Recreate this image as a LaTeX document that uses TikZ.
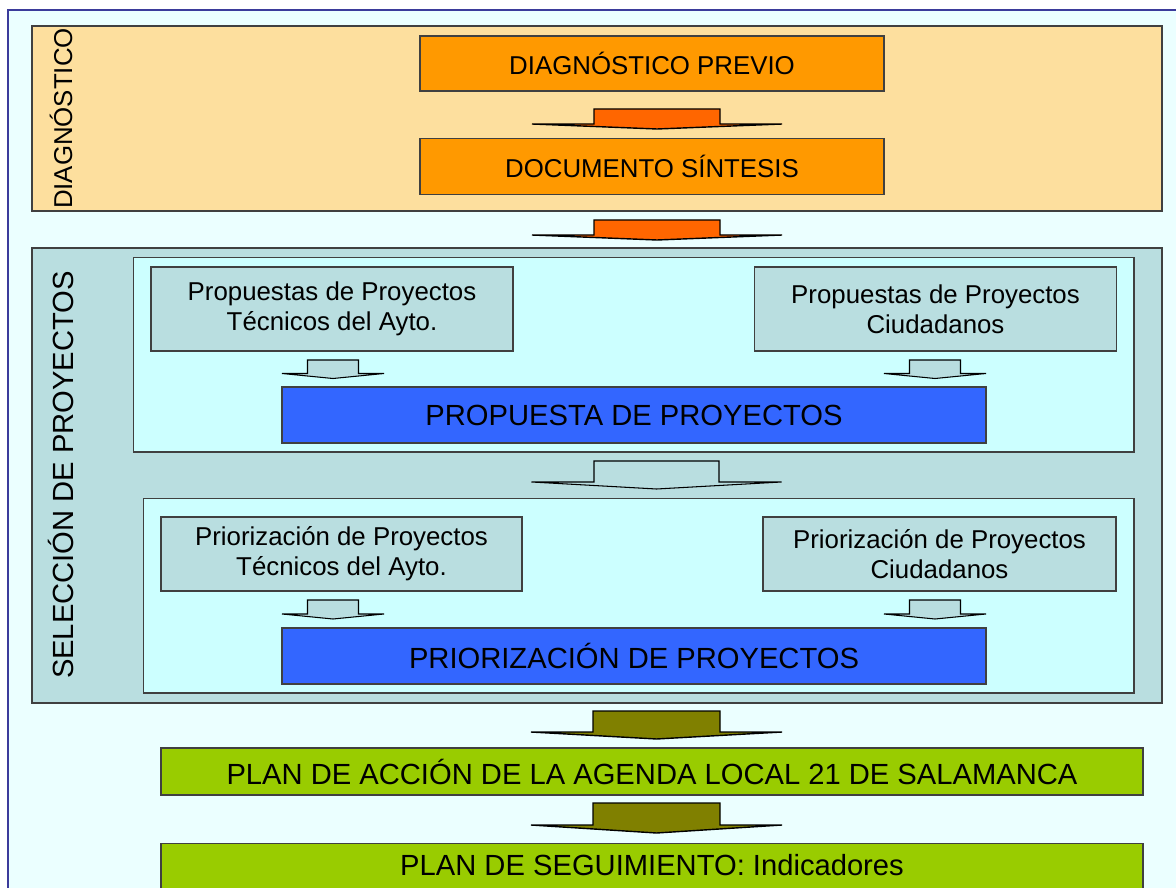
\documentclass[tikz,border=0pt]{standalone}
\usepackage{fontspec}
\setmainfont{Liberation Sans}
\usepackage{tikz}
\usetikzlibrary{calc}
\usetikzlibrary{positioning}
\definecolor{marco}{RGB}{59,59,155}
\definecolor{fondo}{RGB}{235,255,255}
\definecolor{crema}{RGB}{253,223,158}
\definecolor{naranja}{RGB}{255,153,0}
\definecolor{naranjaosc}{RGB}{255,102,0}
\definecolor{grisazul}{RGB}{185,222,224}
\definecolor{celeste}{RGB}{204,255,255}
\definecolor{azul}{RGB}{51,102,255}
\definecolor{oliva}{RGB}{128,128,0}
\definecolor{verde}{RGB}{153,204,0}
\tikzset{
caja/.style 2 args={draw=black!75, line width=0.6pt, inner sep=0pt, align=center,
    minimum width=#1*0.02cm, minimum height=#2*0.02cm},
chica/.style={font=\fontsize{14.7}{17}\selectfont},
grande/.style={font=\fontsize{16.6}{19}\selectfont},
pics/flecha/.style n args={4}{code={
    \path[pic actions] (-#1,0) -- (#1,0) -- (#1,#3) -- (#2,#3) -- (0,#3+#4)
        -- (-#2,#3) -- (-#1,#3) -- cycle;
}}
}
\begin{document}
\begin{tikzpicture}[x=0.02cm, y=-0.02cm]
    \useasboundingbox (0,0) rectangle (1176,888);
    \fill[white] (0,0) rectangle (1176,888);

    \draw[marco, fill=fondo, line width=0.9pt] (8,10) rectangle (1200,920);

    \draw[black!75, fill=crema, line width=0.6pt] (32,26) rectangle (1162,211);
    \node[chica, rotate=90] (diag) at (61,118.5) {DIAGNÓSTICO};

    \draw[black!75, fill=grisazul, line width=0.6pt] (32,248) rectangle (1162,703);
    \node[grande, rotate=90] (seleccion) at (61,475) {SELECCIÓN DE PROYECTOS};
    \draw[black!75, fill=celeste, line width=0.6pt] (133.5,257.5) rectangle (1134,452);
    \draw[black!75, fill=celeste, line width=0.6pt] (143.5,498.5) rectangle (1134,693);

    \node[caja={464}{55}, fill=naranja, chica] (previo) at (652,63.5) {DIAGNÓSTICO PREVIO};
    \node[caja={464}{56}, fill=naranja, chica, below=0.93cm of previo] (sintesis) {DOCUMENTO SÍNTESIS};

    \node[caja={362}{84}, fill=grisazul, chica] (proptec) at (332,309) {Propuestas de Proyectos \\ Técnicos del Ayto.};
    \node[caja={362}{84}, fill=grisazul, chica, right=4.81cm of proptec] (propciu) {Propuestas de Proyectos \\ Ciudadanos};
    \node[caja={704}{56}, fill=azul, grande] (propuesta) at (634,415) {PROPUESTA DE PROYECTOS};

    \node[caja={361}{74}, fill=grisazul, chica] (priotec) at (341.5,554) {Priorización de Proyectos \\ Técnicos del Ayto.};
    \node[caja={353}{74}, fill=grisazul, chica] (priociu) at (939.5,554) {Priorización de Proyectos \\ Ciudadanos};
    \node[caja={704}{56}, fill=azul, grande] (priorizacion) at (634,656) {PRIORIZACIÓN DE PROYECTOS};

    \node[caja={982}{47}, fill=verde, grande] (plan) at (652,771.5) {PLAN DE ACCIÓN DE LA AGENDA LOCAL 21 DE SALAMANCA};
    \node[caja={982}{45}, fill=verde, grande, below=0.94cm of plan] (seguimiento) {PLAN DE SEGUIMIENTO: Indicadores};

    % flechas
    \pic[draw=black, line width=0.8pt, fill=naranjaosc] at (657,109) {flecha={63}{125}{15}{5}};
    \pic[draw=black, line width=0.8pt, fill=naranjaosc] at (657,220) {flecha={63}{125}{15}{5}};
    \pic[draw=black, line width=0.6pt, fill=grisazul] at (333,360) {flecha={25.5}{51}{13.5}{5}};
    \pic[draw=black, line width=0.6pt, fill=grisazul] at (935,360) {flecha={25.5}{51}{13.5}{5}};
    \pic[draw=black, line width=0.6pt, fill=grisazul] at (656.5,461) {flecha={62.5}{125}{21}{7}};
    \pic[draw=black, line width=0.6pt, fill=grisazul] at (333,600) {flecha={25.5}{51}{14}{5}};
    \pic[draw=black, line width=0.6pt, fill=grisazul] at (935,600) {flecha={25.5}{51}{14}{5}};
    \pic[draw=black, line width=0.8pt, fill=oliva] at (656.5,711) {flecha={63.5}{125.5}{21}{7}};
    \pic[draw=black, line width=0.8pt, fill=oliva] at (656.5,803) {flecha={63.5}{125.5}{22}{8}};
\end{tikzpicture}
\end{document}
